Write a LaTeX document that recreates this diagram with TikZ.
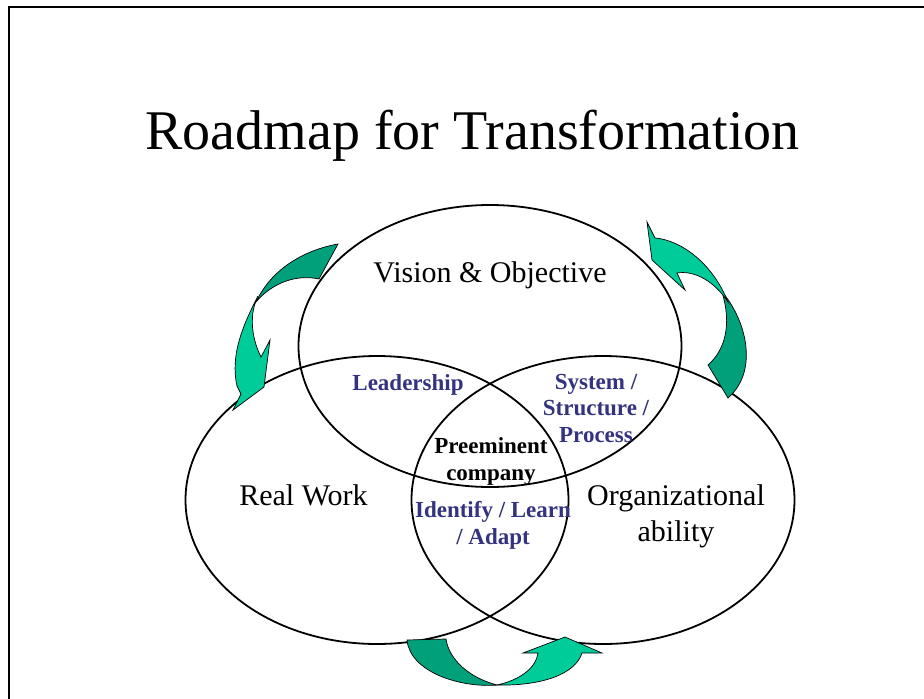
\documentclass[tikz,border=0pt]{standalone}
\usepackage{fontspec}
\setmainfont{Liberation Serif}
\usetikzlibrary{shapes.geometric}
\definecolor{navy}{RGB}{51,51,128}
\definecolor{lightgreen}{RGB}{0,204,153}
\definecolor{darkgreen}{RGB}{0,160,122}

\begin{document}
\begin{tikzpicture}[x=1pt,y=-1pt,
  venn/.style={ellipse,draw,line width=1.8pt,inner sep=0pt,minimum width=383pt,minimum height=288pt},
  big/.style={font=\fontsize{30}{36}\selectfont,align=center,anchor=base,inner sep=0pt},
  part/.style={font=\fontsize{23}{26.5}\selectfont\bfseries,text=navy,align=center,anchor=base,inner sep=0pt},
  frontarrow/.style={fill=lightgreen,draw=black,line width=0.7pt},
  backarrow/.style={fill=darkgreen,draw=black,line width=0.7pt}]
  \useasboundingbox (0,0) rectangle (924,699);
  % slide frame
  \draw[line width=2.4pt] (9,699) -- (9,7) -- (924,7);
  \node[anchor=base,inner sep=0pt,font=\fontsize{56}{60}\selectfont] (title) at (472.5,149) {Roadmap for Transformation};
  % three circles
  \node[venn,minimum height=282pt] (vision) at (490,346) {};
  \node[venn] (work) at (377,500) {};
  \node[venn] (ability) at (603,500) {};
  \node[big] (visiontext) at (490,282) {Vision \& Objective};
  \node[big] (worktext) at (303.5,505) {Real Work};
  \node[big] (abilitytext) at (676,541) {Organizational\\ability};
  % overlaps (base = last line)
  \node[part] (leader) at (408,390) {Leadership};
  \node[part] (system) at (596,442) {System /\\Structure /\\Process};
  \node[part,text=black] (company) at (491,480) {Preeminent\\company};
  \node[part] (adapt) at (493,544) {Identify / Learn\\/ Adapt};
  % left arrow
  \draw[frontarrow] (258,296) .. controls (243,325) and (230,355) .. (237,386) -- (241,394) -- (233,410)
    -- (264,387) -- (270,340) -- (261,357) .. controls (250,335) and (250,312) .. (258,296) -- cycle;
  \draw[backarrow] (338,244) .. controls (305,250) and (272,268) .. (256,302)
    .. controls (272,283) and (296,274) .. (319,279) -- cycle;
  % right arrow
  \draw[backarrow] (722,292) .. controls (745,318) and (760,370) .. (728,398) -- (708,365)
    .. controls (725,350) and (732,325) .. (722,292) -- cycle;
  \draw[frontarrow] (647,222) -- (655,238) .. controls (680,240) and (712,262) .. (728,302)
    .. controls (715,282) and (695,270) .. (677,273) -- (685,290) -- (652,260) -- cycle;
  % bottom arrow
  \draw[backarrow] (407,640) -- (446,639) .. controls (449,660) and (470,678) .. (497,685)
    .. controls (460,688) and (410,672) .. (407,640) -- cycle;
  \draw[frontarrow] (497,685) .. controls (540,686) and (575,675) .. (582,653) -- (602,653) -- (565,637)
    -- (523,653) -- (538,653) .. controls (536,668) and (520,680) .. (497,685) -- cycle;
\end{tikzpicture}
\end{document}
